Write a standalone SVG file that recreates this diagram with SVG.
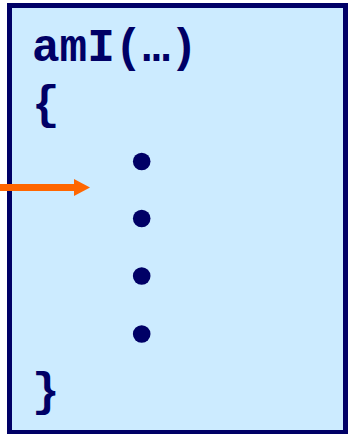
<svg xmlns="http://www.w3.org/2000/svg" width="348" height="434" viewBox="0 0 348 434">
<style>
.code{font-family:"Liberation Mono","Courier New",monospace;font-weight:bold;font-size:46px;fill:#000066}
.dot{fill:#000066}
</style>
<defs>
<marker id="ah" markerUnits="userSpaceOnUse" markerWidth="16" markerHeight="17" refX="0" refY="8.5" orient="auto">
<path d="M0,0 L16,8.5 L0,17 Z" fill="#FF6600"/>
</marker>
</defs>
<g id="box">
<rect x="9.5" y="5.5" width="336" height="427" fill="#CCEBFF" stroke="#000066" stroke-width="5"/>
<text class="code" x="32" y="61">amI(…)</text>
<text class="code" x="32" y="118">{</text>
<circle class="dot" cx="141.7" cy="161.5" r="8.8"/>
<circle class="dot" cx="141.7" cy="218.5" r="8.8"/>
<circle class="dot" cx="141.7" cy="276" r="8.8"/>
<circle class="dot" cx="141.7" cy="334" r="8.8"/>
<text class="code" x="32" y="405">}</text>
</g>
<g id="connectors">
<line x1="0" y1="187.5" x2="74" y2="187.5" stroke="#FF6600" stroke-width="7" marker-end="url(#ah)"/>
</g>
</svg>
